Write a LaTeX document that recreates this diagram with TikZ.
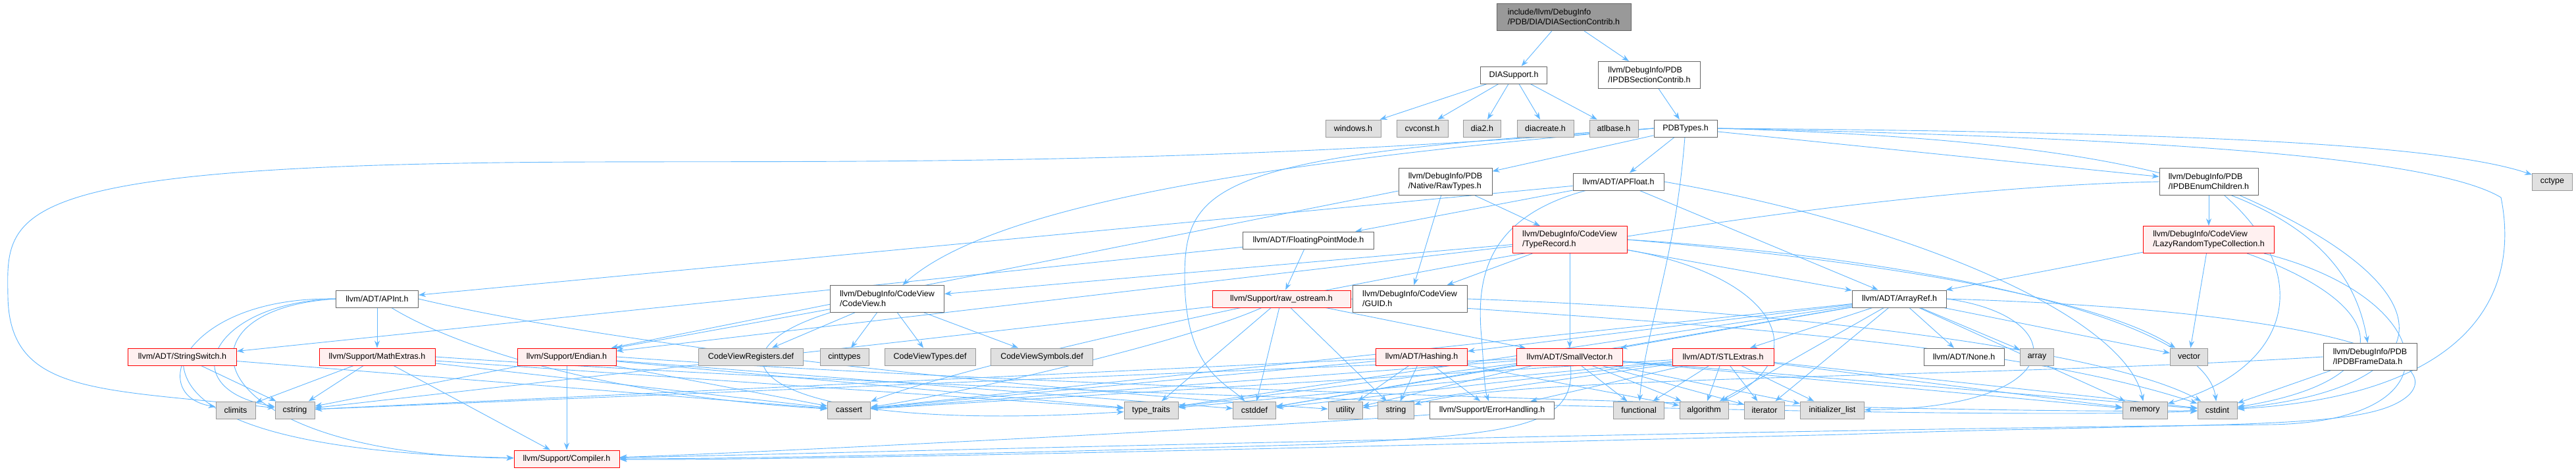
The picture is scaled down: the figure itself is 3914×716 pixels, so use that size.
\documentclass[tikz,border=0pt]{standalone}
\usepackage{fontspec}
\setmainfont{Liberation Sans}
\usetikzlibrary{arrows.meta,backgrounds}
\definecolor{edgeblue}{HTML}{63B8FF}
\definecolor{grayforty}{HTML}{666666}
\definecolor{graysixty}{HTML}{999999}
\definecolor{sysfill}{HTML}{E0E0E0}
\definecolor{truncfill}{HTML}{FFF0F0}
\begin{document}
\begin{tikzpicture}[x=1pt,y=-1pt,>={Stealth[length=11pt,width=8pt]},
  filebox/.style={rectangle,line width=1pt,inner sep=3pt,minimum height=26pt,font=\fontsize{12.5}{15}\selectfont,align=left},
  tall/.style={minimum height=41pt},
  hdr/.style={filebox,draw=grayforty,fill=white},
  sys/.style={filebox,draw=graysixty,fill=sysfill},
  trunc/.style={filebox,draw=red,fill=truncfill},
  rootbox/.style={filebox,draw=grayforty,fill=graysixty},
  dep/.style={->,draw=edgeblue,line width=0.9pt}]
\useasboundingbox (0,0) rectangle (3914,716);
\node[rootbox,tall,minimum width=204pt] (root) at (2376,26) {include/llvm/DebugInfo\\/PDB/DIA/DIASectionContrib.h};
\node[hdr,minimum width=101pt] (diasup) at (2300,114) {DIASupport.h};
\node[hdr,tall,minimum width=155pt] (seccontrib) at (2506,114) {llvm/DebugInfo/PDB\\/IPDBSectionContrib.h};
\node[sys,minimum width=84pt] (windows) at (2056,195) {windows.h};
\node[sys,minimum width=78pt] (cvconst) at (2161,195) {cvconst.h};
\node[sys,minimum width=57pt] (diatwo) at (2252,195) {dia2.h};
\node[sys,minimum width=86pt] (diacreate) at (2348,195) {diacreate.h};
\node[sys,minimum width=74pt] (atlbase) at (2452,195) {atlbase.h};
\node[hdr,minimum width=96pt] (pdbtypes) at (2561,195) {PDBTypes.h};
\node[hdr,tall,minimum width=142pt] (rawtypes) at (2196,276) {llvm/DebugInfo/PDB\\/Native/RawTypes.h};
\node[hdr,minimum width=138pt] (apfloat) at (2459,276) {llvm/ADT/APFloat.h};
\node[hdr,tall,minimum width=150pt] (enumchildren) at (3356,276) {llvm/DebugInfo/PDB\\/IPDBEnumChildren.h};
\node[sys,minimum width=61pt] (cctype) at (3878,276) {cctype};
\node[hdr,minimum width=199pt] (fpmode) at (1988,365) {llvm/ADT/FloatingPointMode.h};
\node[trunc,tall,minimum width=174pt] (typerecord) at (2385,364) {llvm/DebugInfo/CodeView\\/TypeRecord.h};
\node[trunc,tall,minimum width=199pt] (lazycoll) at (3356,364) {llvm/DebugInfo/CodeView\\/LazyRandomTypeCollection.h};
\node[hdr,minimum width=125pt] (apint) at (573,454) {llvm/ADT/APInt.h};
\node[hdr,tall,minimum width=173pt] (codeview) at (1348,454) {llvm/DebugInfo/CodeView\\/CodeView.h};
\node[trunc,minimum width=210pt] (rawostream) at (1947,454) {llvm/Support/raw\_ostream.h};
\node[hdr,tall,minimum width=174pt] (guid) at (2142,454) {llvm/DebugInfo/CodeView\\/GUID.h};
\node[hdr,minimum width=143pt] (arrayref) at (2886,454) {llvm/ADT/ArrayRef.h};
\node[trunc,minimum width=165pt] (strswitch) at (277,542) {llvm/ADT/StringSwitch.h};
\node[trunc,minimum width=176pt] (mathextras) at (573,542) {llvm/Support/MathExtras.h};
\node[trunc,minimum width=150pt] (endian) at (861,542) {llvm/Support/Endian.h};
\node[sys,minimum width=159pt] (cvregs) at (1141,542) {CodeViewRegisters.def};
\node[sys,minimum width=74pt] (cinttypes) at (1283,542) {cinttypes};
\node[sys,minimum width=138pt] (cvtypes) at (1413,542) {CodeViewTypes.def};
\node[sys,minimum width=155pt] (cvsyms) at (1583,542) {CodeViewSymbols.def};
\node[trunc,minimum width=139pt] (hashing) at (2160,542) {llvm/ADT/Hashing.h};
\node[trunc,minimum width=161pt] (smallvec) at (2385,542) {llvm/ADT/SmallVector.h};
\node[trunc,minimum width=154pt] (stlextras) at (2618,542) {llvm/ADT/STLExtras.h};
\node[hdr,minimum width=122pt] (none) at (2984,542) {llvm/ADT/None.h};
\node[sys,minimum width=51pt] (array) at (3095,542) {array};
\node[sys,minimum width=57pt] (vector) at (3326,542) {vector};
\node[hdr,tall,minimum width=142pt] (framedata) at (3601,542) {llvm/DebugInfo/PDB\\/IPDBFrameData.h};
\node[sys,minimum width=60pt] (climits) at (358,623) {climits};
\node[sys,minimum width=60pt] (cstring) at (448,623) {cstring};
\node[sys,minimum width=65pt] (cassert) at (1290,623) {cassert};
\node[sys,minimum width=82pt] (typetraits) at (1749,623) {type\_traits};
\node[sys,minimum width=65pt] (cstddef) at (1906,623) {cstddef};
\node[sys,minimum width=52pt] (utility) at (2044,623) {utility};
\node[sys,minimum width=55pt] (string) at (2121,623) {string};
\node[hdr,minimum width=189pt] (errhandling) at (2267,623) {llvm/Support/ErrorHandling.h};
\node[sys,minimum width=77pt] (functional) at (2490,623) {functional};
\node[sys,minimum width=74pt] (algorithm) at (2589,623) {algorithm};
\node[sys,minimum width=61pt] (iterator) at (2681,623) {iterator};
\node[sys,minimum width=97pt] (initlist) at (2784,623) {initializer\_list};
\node[sys,minimum width=68pt] (memory) at (3259,623) {memory};
\node[sys,minimum width=60pt] (cstdint) at (3369,623) {cstdint};
\node[trunc,minimum width=160pt] (compiler) at (861,697) {llvm/Support/Compiler.h};
\begin{scope}[on background layer]
\fill[white] (0,0) rectangle (3914,716);
\draw[dep] (root) -- (diasup);
\draw[dep] (root) -- (seccontrib);
\draw[dep] (diasup) -- (windows);
\draw[dep] (diasup) -- (cvconst);
\draw[dep] (diasup) -- (diatwo);
\draw[dep] (diasup) -- (diacreate);
\draw[dep] (diasup) -- (atlbase);
\draw[dep] (seccontrib) -- (pdbtypes);
\draw[dep] (pdbtypes) -- (rawtypes);
\draw[dep] (pdbtypes) -- (apfloat);
\draw[dep] (pdbtypes) -- (enumchildren);
\draw[dep] (pdbtypes.east) .. controls (3250,200) and (3700,215) .. (cctype);
\draw[dep] (pdbtypes.west) .. controls (2000,240) and (1520,300) .. (codeview);
\draw[dep] (pdbtypes.west) .. controls (1850,235) and (1800,280) .. (1800,420) .. controls (1800,560) and (1860,580) .. (cstddef);
\draw[dep] (pdbtypes.west) .. controls (1700,262) and (1100,240) .. (700,248) .. controls (0,260) and (10,330) .. (12,450) .. controls (14,600) and (150,590) .. (cstring);
\draw[dep] (pdbtypes) .. controls (2545,400) and (2500,500) .. (functional);
\draw[dep] (pdbtypes.east) .. controls (3300,215) and (3560,300) .. (framedata);
\draw[dep] (pdbtypes.east) .. controls (3300,210) and (3700,240) .. (3800,300) .. controls (3830,450) and (3750,600) .. (cstdint);
\draw[dep] (rawtypes) -- (guid);
\draw[dep] (rawtypes) -- (typerecord);
\draw[dep] (rawtypes) -- (endian);
\draw[dep] (apfloat) -- (apint);
\draw[dep] (apfloat) -- (fpmode);
\draw[dep] (apfloat) .. controls (2260,330) and (2245,420) .. (2250,500) .. controls (2255,560) and (2255,590) .. (errhandling);
\draw[dep] (apfloat) -- (arrayref);
\draw[dep] (apfloat.east) .. controls (2900,340) and (3230,480) .. (memory);
\draw[dep] (enumchildren) -- (lazycoll);
\draw[dep] (enumchildren.west) .. controls (2600,290) and (1500,540) .. (cassert);
\draw[dep] (enumchildren) .. controls (3520,420) and (3480,560) .. (memory);
\draw[dep] (enumchildren) .. controls (3750,450) and (3700,590) .. (cstdint);
\draw[dep] (lazycoll) -- (arrayref);
\draw[dep] (lazycoll) -- (vector);
\draw[dep] (lazycoll) .. controls (3650,470) and (3640,580) .. (cstdint);
\draw[dep] (lazycoll) .. controls (3700,450) and (3750,640) .. (3450,645) .. controls (2500,655) and (1200,690) .. (compiler);
\draw[dep] (framedata) -- (cstdint);
\draw[dep] (framedata.west) .. controls (3000,575) and (2300,570) .. (string);
\draw[dep] (typerecord) -- (guid);
\draw[dep] (typerecord) -- (smallvec);
\draw[dep] (typerecord) -- (arrayref);
\draw[dep] (typerecord) -- (codeview);
\draw[dep] (typerecord) -- (endian);
\draw[dep] (typerecord) .. controls (2700,420) and (2760,540) .. (algorithm);
\draw[dep] (typerecord.east) .. controls (2900,400) and (3200,460) .. (vector);
\draw[dep] (typerecord.east) .. controls (2900,390) and (3350,480) .. (cstdint);
\draw[dep] (fpmode) -- (rawostream);
\draw[dep] (fpmode) -- (strswitch);
\draw[dep] (codeview) -- (cvregs);
\draw[dep] (codeview) -- (cinttypes);
\draw[dep] (codeview) -- (cvtypes);
\draw[dep] (codeview) -- (cvsyms);
\draw[dep] (codeview) -- (endian);
\draw[dep] (codeview.south west) .. controls (1050,540) and (1150,660) .. (typetraits);
\draw[dep] (rawostream) -- (cstring);
\draw[dep] (rawostream) .. controls (1800,520) and (1450,600) .. (cassert);
\draw[dep] (rawostream) -- (typetraits);
\draw[dep] (rawostream) -- (cstddef);
\draw[dep] (rawostream) -- (string);
\draw[dep] (rawostream) -- (smallvec);
\draw[dep] (rawostream.east) .. controls (2300,480) and (3000,500) .. (cstdint);
\draw[dep] (guid.east) .. controls (2700,470) and (3200,530) .. (cstdint);
\draw[dep] (apint) -- (mathextras);
\draw[dep] (apint.west) .. controls (280,450) and (220,600) .. (climits);
\draw[dep] (apint.west) .. controls (320,460) and (260,590) .. (cstring);
\draw[dep] (apint.west) .. controls (250,470) and (300,690) .. (compiler);
\draw[dep] (apint) .. controls (680,520) and (900,600) .. (cassert);
\draw[dep] (apint.east) .. controls (1000,540) and (1700,600) .. (utility);
\draw[dep] (strswitch) .. controls (290,650) and (500,690) .. (compiler);
\draw[dep] (strswitch) -- (cstring);
\draw[dep] (strswitch) -- (cassert);
\draw[dep] (mathextras) -- (climits);
\draw[dep] (mathextras) -- (cstring);
\draw[dep] (mathextras) -- (compiler);
\draw[dep] (mathextras) -- (cassert);
\draw[dep] (mathextras) -- (typetraits);
\draw[dep] (mathextras.east) .. controls (1500,600) and (3000,640) .. (cstdint);
\draw[dep] (endian) -- (compiler);
\draw[dep] (endian) -- (cstring);
\draw[dep] (endian) -- (cassert);
\draw[dep] (endian) -- (typetraits);
\draw[dep] (endian) -- (cstddef);
\draw[dep] (endian.east) .. controls (1600,590) and (3000,630) .. (cstdint);
\draw[dep] (hashing) -- (utility);
\draw[dep] (hashing) -- (string);
\draw[dep] (hashing) -- (errhandling);
\draw[dep] (hashing) -- (cassert);
\draw[dep] (hashing) -- (cstring);
\draw[dep] (hashing) -- (algorithm);
\draw[dep] (smallvec) .. controls (2395,650) and (2300,660) .. (2000,675) .. controls (1500,690) and (1100,697) .. (compiler);
\draw[dep] (smallvec) -- (functional);
\draw[dep] (smallvec) -- (algorithm);
\draw[dep] (smallvec) -- (iterator);
\draw[dep] (smallvec) -- (initlist);
\draw[dep] (smallvec) -- (memory);
\draw[dep] (smallvec) -- (cstdint);
\draw[dep] (smallvec) -- (cassert);
\draw[dep] (smallvec) -- (cstring);
\draw[dep] (smallvec) -- (typetraits);
\draw[dep] (smallvec) -- (cstddef);
\draw[dep] (smallvec) -- (utility);
\draw[dep] (stlextras) -- (errhandling);
\draw[dep] (stlextras) -- (functional);
\draw[dep] (stlextras) -- (algorithm);
\draw[dep] (stlextras) -- (iterator);
\draw[dep] (stlextras) -- (initlist);
\draw[dep] (stlextras) -- (memory);
\draw[dep] (stlextras) -- (cstdint);
\draw[dep] (stlextras) -- (utility);
\draw[dep] (stlextras) -- (cassert);
\draw[dep] (stlextras) -- (cstddef);
\draw[dep] (stlextras) -- (typetraits);
\draw[dep] (arrayref) -- (hashing);
\draw[dep] (arrayref) -- (smallvec);
\draw[dep] (arrayref) -- (stlextras);
\draw[dep] (arrayref) -- (none);
\draw[dep] (arrayref) -- (array);
\draw[dep] (arrayref) -- (vector);
\draw[dep] (arrayref) -- (memory);
\draw[dep] (arrayref) -- (algorithm);
\draw[dep] (arrayref) -- (iterator);
\draw[dep] (arrayref.east) .. controls (3150,480) and (3150,620) .. (initlist);
\draw[dep] (arrayref) -- (cassert);
\draw[dep] (arrayref) -- (cstddef);
\draw[dep] (arrayref) -- (typetraits);
\draw[dep] (arrayref.east) .. controls (3500,470) and (3720,540) .. (3660,600) .. controls (3600,655) and (3400,640) .. (2800,660) .. controls (2000,680) and (1200,700) .. (compiler);
\draw[dep] (errhandling) .. controls (1900,650) and (1100,690) .. (compiler);
\end{scope}
\end{tikzpicture}
\end{document}
